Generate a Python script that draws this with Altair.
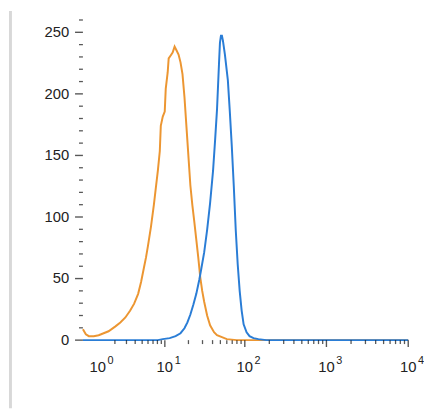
import altair as alt
import pandas as pd

# ---- data (fluorescence intensity vs. cell count) ----
orange_x = [0.457, 0.548, 0.648, 0.834, 1.047, 1.293, 1.574, 2.04, 2.43, 2.89,
            3.40, 3.87, 4.40, 4.83, 5.30, 5.64, 6.00, 6.57, 7.19, 7.64,
            8.11, 8.60, 8.86, 9.40, 9.97, 10.27, 10.89, 11.21, 11.89, 12.60,
            13.35, 14.15, 14.99, 15.88, 16.82, 17.81, 18.86, 19.97, 21.15, 22.39,
            23.70, 25.09, 26.55, 28.10, 29.74, 31.47, 34.25, 37.28, 41.73, 45.41,
            52.26, 60.12, 79.6, 10000]
orange_y = [8.8, 4.8, 3.2, 3.2, 4.0, 5.6, 7.2, 11.2, 14.4, 18.4,
            24.0, 29.6, 37.6, 47.2, 59.2, 67.2, 76.8, 92.0, 110.0, 124.0,
            137.6, 153.6, 174.0, 181.6, 185.6, 204.0, 217.6, 228.8, 231.2, 233.6,
            238.4, 235.2, 232.0, 225.6, 216.0, 197.6, 173.6, 149.6, 125.6, 109.6,
            96.0, 81.6, 67.2, 51.2, 40.0, 31.2, 20.0, 12.0, 6.4, 4.0,
            2.4, 0.8, 0.0, 0.0]

blue_x = [0.457, 8.11, 9.40, 11.54, 13.75, 15.88, 17.81, 19.41, 21.15, 23.03,
          25.09, 27.31, 28.90, 31.47, 34.25, 37.28, 40.58, 42.93, 45.41, 46.70,
          48.03, 49.40, 50.80, 52.26, 53.75, 56.84, 61.83, 65.39, 69.15, 73.14,
          77.34, 81.79, 86.49, 91.47, 96.72, 105.2, 114.4, 127.9, 146.9, 183.6,
          10000]
blue_y = [0.0, 0.0, 0.8, 1.6, 3.2, 5.6, 9.6, 14.4, 20.8, 28.8,
          37.6, 48.8, 57.6, 71.2, 89.6, 111.2, 137.6, 161.6, 187.2, 205.6,
          224.0, 241.6, 247.2, 247.2, 243.2, 232.0, 211.2, 185.6, 157.6, 125.6,
          89.6, 61.6, 40.0, 24.0, 12.8, 6.4, 3.2, 1.6, 0.8, 0.0,
          0.0]

# axis tick values and labels
x_major = [1, 10, 100, 1000, 10000]
x_base_labels = ["10", "10", "10", "10", "10"]
x_exponents = ["0", "1", "2", "3", "4"]
x_major_ticked = [10, 100, 1000, 10000]
x_minor = [k * 10 ** d for d in range(0, 4) for k in range(2, 10)]
y_major = [0, 50, 100, 150, 200, 250]
y_minor = [v for v in range(0, 261, 10) if v % 50 != 0]

x_title = "GRP78/HSPA5 [Alexa Fluor\u00ae 647]"
y_title = "Relative Cell Number"

orange_color = "#EC9632"
blue_color = "#2A7DD6"
ink = "#111111"
text_color = "#222222"

X_MIN, X_MAX = 0.457, 10000
Y_MIN, Y_MAX = 0, 265
W, H = 330, 331

df_o = pd.DataFrame({"intensity": orange_x, "count": orange_y})
df_b = pd.DataFrame({"intensity": blue_x, "count": blue_y})
df_xlab = pd.DataFrame({"value": x_major, "base": x_base_labels, "exp": x_exponents})
df_xmaj = pd.DataFrame({"value": x_major_ticked})
df_xmin = pd.DataFrame({"value": x_minor})
df_ymaj = pd.DataFrame({"value": y_major})
df_ymin = pd.DataFrame({"value": y_minor})

x_scale = alt.Scale(type="symlog", constant=0.6, domain=[X_MIN, X_MAX], nice=False, zero=False)
y_scale = alt.Scale(domain=[Y_MIN, Y_MAX], nice=False, zero=False)

x_axis = alt.Axis(
    orient="bottom", title=x_title, labels=False, ticks=False, grid=False,
    domainColor=ink, domainWidth=1.6,
    titleFont="Lato", titleFontSize=19, titleFontWeight="normal", titleColor=text_color,
    titleX=W / 2, titleY=62, titleBaseline="alphabetic", titleAlign="center",
)
y_axis = alt.Axis(
    orient="left", title=y_title, labels=False, ticks=False, grid=False,
    domainColor=ink, domainWidth=1.6,
    titleFont="Liberation Sans", titleFontSize=19, titleFontWeight="normal",
    titleColor=text_color,
    titleX=-58, titleY=161, titleAngle=270, titleBaseline="middle", titleAlign="center",
)

x_line = alt.X("intensity:Q", scale=x_scale, axis=x_axis)
y_line = alt.Y("count:Q", scale=y_scale, axis=y_axis)
x_val = alt.X("value:Q", scale=x_scale, axis=None)
y_val = alt.Y("value:Q", scale=y_scale, axis=None)
x_left = alt.XDatum(X_MIN, scale=x_scale, axis=None)
y_bottom = alt.YDatum(Y_MIN, scale=y_scale, axis=None)

border = alt.Chart(pd.DataFrame({"k": [0]})).mark_rule(
    color="#d8d8d8", strokeWidth=3
).encode(x=alt.value(-73.5), y=alt.value(-3), y2=alt.value(400))

orange = alt.Chart(df_o).mark_line(color=orange_color, strokeWidth=2).encode(x=x_line, y=y_line)
blue = alt.Chart(df_b).mark_line(color=blue_color, strokeWidth=2).encode(x=x_line, y=y_line)

# tick marks of the axes
x_major_ticks = alt.Chart(df_xmaj).mark_tick(
    orient="vertical", size=7, thickness=1.4, yOffset=3.5, color=ink
).encode(x=x_val, y=y_bottom)
x_minor_ticks = alt.Chart(df_xmin).mark_tick(
    orient="vertical", size=4, thickness=1.3, yOffset=2, color=ink
).encode(x=x_val, y=y_bottom)
y_major_ticks = alt.Chart(df_ymaj).mark_tick(
    orient="horizontal", size=8, thickness=1.4, xOffset=-4, color=ink
).encode(x=x_left, y=y_val)
y_minor_ticks = alt.Chart(df_ymin).mark_tick(
    orient="horizontal", size=4, thickness=1.3, xOffset=-2, color=ink
).encode(x=x_left, y=y_val)

# tick labels
x_base_text = alt.Chart(df_xlab).mark_text(
    font="Liberation Sans", fontSize=15, color=text_color,
    align="center", baseline="top", dy=20
).encode(x=x_val, y=y_bottom, text="base:N")
x_exp_text = alt.Chart(df_xlab).mark_text(
    font="Liberation Sans", fontSize=11, color=text_color,
    align="center", baseline="top", dx=13, dy=15
).encode(x=x_val, y=y_bottom, text="exp:N")
y_text = alt.Chart(df_ymaj).mark_text(
    font="Liberation Sans", fontSize=15, color=text_color,
    align="right", baseline="middle", dx=-14
).encode(x=x_left, y=y_val, text=alt.Text("value:Q", format="d"))

chart = alt.layer(
    border, orange, blue,
    x_major_ticks, x_minor_ticks, y_major_ticks, y_minor_ticks,
    x_base_text, x_exp_text, y_text,
).properties(
    width=W, height=H,
    padding={"left": 76, "top": 3, "right": 16, "bottom": 71},
    autosize=alt.AutoSizeParams(type="none"),
).configure_view(stroke=None)

chart.save("out.html", embed_options={"renderer": "svg", "actions": False})
